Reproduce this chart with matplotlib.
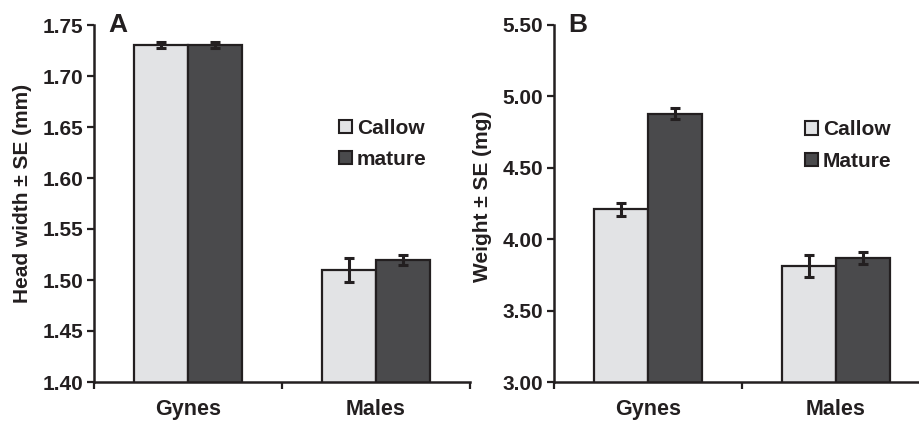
import matplotlib
matplotlib.use("Agg")
import matplotlib.pyplot as plt
from matplotlib.patches import Patch
import numpy as np

plt.rcParams['font.family'] = ['Liberation Sans', 'DejaVu Sans']
plt.rcParams['font.weight'] = 'bold'

categories = ["Gynes", "Males"]

head_callow = [1.73, 1.51]
head_callow_se = [0.003, 0.012]
head_mature = [1.73, 1.52]
head_mature_se = [0.003, 0.005]

weight_callow = [4.21, 3.81]
weight_callow_se = [0.045, 0.078]
weight_mature = [4.88, 3.87]
weight_mature_se = [0.036, 0.043]

head_ticks = [1.40, 1.45, 1.50, 1.55, 1.60, 1.65, 1.70, 1.75]
weight_ticks = [3.00, 3.50, 4.00, 4.50, 5.00, 5.50]

light = "#e2e3e5"
dark = "#4a4a4c"
edge = "#231f20"
FS = 15

fig = plt.figure(figsize=(9.2, 4.21), dpi=100)
axA = fig.add_axes([94/920, 39/421, 376/920, 357/421])
axB = fig.add_axes([554/920, 39/421, 376/920, 357/421])

def panel(ax, callow, callow_se, mature, mature_se, ticks, ylabel, label_y, letter, legend_labels, leg_anchor):
    x = np.arange(len(categories))
    w = 0.288
    ax.bar(x - w/2, callow, width=w, color=light, edgecolor=edge, linewidth=1.6, zorder=2)
    ax.bar(x + w/2, mature, width=w, color=dark, edgecolor=edge, linewidth=1.6, zorder=2)
    ax.errorbar(x - w/2, callow, yerr=callow_se, fmt='none', ecolor=edge,
                elinewidth=2.2, capsize=3.5, capthick=2.2, zorder=3)
    ax.errorbar(x + w/2, mature, yerr=mature_se, fmt='none', ecolor=edge,
                elinewidth=2.2, capsize=3.5, capthick=2.2, zorder=3)
    ax.set_xlim(-0.5, 1.5)
    ax.set_ylim(ticks[0], ticks[-1])
    ax.set_yticks(ticks)
    ax.set_yticklabels([f"{t:.2f}" for t in ticks], fontsize=FS, fontweight='bold', color='#231f20')
    ax.set_xticks([-0.5, 0.5, 1.5])
    ax.set_xticklabels([])
    ax.set_xticks(x, minor=True)
    ax.set_xticklabels(categories, minor=True, fontsize=FS + 0.5, fontweight='bold', color='#231f20')
    ax.tick_params(axis='x', which='minor', length=0, pad=12.5)
    ax.tick_params(axis='x', which='major', length=5, width=1.6, direction='out', color=edge)
    ax.tick_params(axis='y', length=5, width=1.6, direction='out', color=edge, pad=3)
    for s in ['top', 'right']:
        ax.spines[s].set_visible(False)
    for s in ['left', 'bottom']:
        ax.spines[s].set_linewidth(1.8)
        ax.spines[s].set_color(edge)
    ax.set_ylabel(ylabel, fontsize=FS, fontweight='bold', color='#231f20')
    ax.yaxis.set_label_coords(-0.191, label_y)
    ax.yaxis.label.set_va('center')
    ax.text(0.038, 1.0, letter, transform=ax.transAxes, fontsize=19, fontweight='bold',
            ha='left', va='center', color='#231f20')
    handles = [Patch(facecolor=light, edgecolor=edge, linewidth=1.5),
               Patch(facecolor=dark, edgecolor=edge, linewidth=1.5)]
    leg = ax.legend(handles, legend_labels, loc='center left', bbox_to_anchor=leg_anchor,
                    frameon=False, handlelength=0.6, handleheight=0.6, handletextpad=0.25,
                    labelspacing=0.6, borderaxespad=0, borderpad=0,
                    prop={'size': FS, 'weight': 'bold'})
    for t in leg.get_texts():
        t.set_color('#231f20')

panel(axA, head_callow, head_callow_se, head_mature, head_mature_se, head_ticks,
      "Head width \u00b1 SE (mm)", 0.528, "A", ["Callow", "mature"], (0.652, 0.667))
panel(axB, weight_callow, weight_callow_se, weight_mature, weight_mature_se, weight_ticks,
      "Weight \u00b1 SE (mg)", 0.52, "B", ["Callow", "Mature"], (0.668, 0.662))

fig.savefig("out.png", dpi=100)
